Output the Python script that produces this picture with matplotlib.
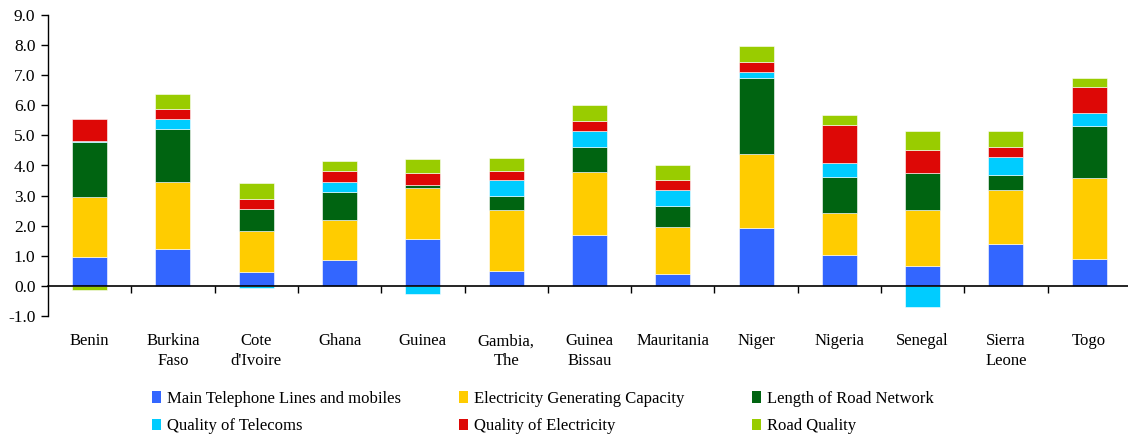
import numpy as np
import matplotlib
matplotlib.use("Agg")
import matplotlib.pyplot as plt
from matplotlib.patches import Patch
from matplotlib.transforms import blended_transform_factory

countries = ["Benin", "Burkina\nFaso", "Cote\nd'Ivoire", "Ghana", "Guinea",
             "Gambia,\nThe", "Guinea\nBissau", "Mauritania", "Niger", "Nigeria",
             "Senegal", "Sierra\nLeone", "Togo"]

phone_lines = [0.96, 1.24, 0.47, 0.86, 1.56, 0.51, 1.69, 0.41, 1.92, 1.04, 0.67, 1.39, 0.91]
elec_capacity = [2.00, 2.20, 1.36, 1.32, 1.69, 2.00, 2.09, 1.56, 2.45, 1.38, 1.84, 1.80, 2.67]
road_length = [1.82, 1.76, 0.73, 0.93, 0.10, 0.49, 0.82, 0.69, 2.54, 1.21, 1.23, 0.49, 1.72]
telecom_quality = [0.03, 0.33, -0.07, 0.33, -0.27, 0.53, 0.53, 0.53, 0.19, 0.45, -0.70, 0.59, 0.43]
elec_quality = [0.72, 0.36, 0.33, 0.39, 0.40, 0.29, 0.36, 0.34, 0.34, 1.26, 0.77, 0.34, 0.88]
road_quality = [-0.12, 0.48, 0.54, 0.33, 0.47, 0.44, 0.53, 0.49, 0.54, 0.34, 0.63, 0.53, 0.29]

series = [
    ("Main Telephone Lines and mobiles", phone_lines, "#3366FF"),
    ("Electricity Generating Capacity", elec_capacity, "#FFCC00"),
    ("Length of Road Network", road_length, "#006411"),
    ("Quality of Telecoms", telecom_quality, "#00CCFF"),
    ("Quality of Electricity", elec_quality, "#DD0806"),
    ("Road Quality", road_quality, "#99CC00"),
]

FS = 12
plt.rcParams["font.family"] = ["Liberation Serif", "DejaVu Serif"]
plt.rcParams["font.size"] = FS

fig = plt.figure(figsize=(11.28, 4.37), dpi=100)
ax = fig.add_axes([48 / 1128, 1 - 316 / 437, 13 * 83.3 / 1128, 301 / 437])

x = np.arange(len(countries))
pos_bottom = np.zeros(len(countries))
neg_bottom = np.zeros(len(countries))
handles = {}
for name, vals, color in series:
    vals = np.array(vals)
    bottom = np.where(vals >= 0, pos_bottom, neg_bottom)
    ax.bar(x, vals, width=0.42, bottom=bottom, color=color,
           edgecolor="white", linewidth=0.4)
    pos_bottom += np.clip(vals, 0, None)
    neg_bottom += np.clip(vals, None, 0)
    handles[name] = Patch(facecolor=color, edgecolor="none")

ax.set_xlim(-0.5, len(countries) - 0.5)
ax.set_ylim(-1, 9)
ax.set_yticks(np.arange(-1, 10))
ax.yaxis.set_major_formatter(matplotlib.ticker.FormatStrFormatter("%.1f"))
ax.tick_params(axis="y", direction="out", length=5, width=1, pad=4,
               labelsize=FS + 0.5)

# x axis sits at zero, ticks between categories, labels below the plot
for s in ["top", "right"]:
    ax.spines[s].set_visible(False)
ax.spines["bottom"].set_position(("data", 0))
ax.spines["left"].set_linewidth(1)
ax.spines["bottom"].set_linewidth(1.2)
ax.set_xticks(np.arange(0.5, len(countries)))
ax.set_xticklabels([])
ax.tick_params(axis="x", direction="out", length=5, width=1)

trans = blended_transform_factory(ax.transData, ax.transAxes)
for xi, label in zip(x, countries):
    ax.text(xi, -0.058, label, transform=trans, ha="center", va="top",
            fontsize=FS, linespacing=1.32)

# legend in three separate columns
columns = [
    (152, ["Main Telephone Lines and mobiles", "Quality of Telecoms"]),
    (459, ["Electricity Generating Capacity", "Quality of Electricity"]),
    (752, ["Length of Road Network", "Road Quality"]),
]
for xpix, names in columns:
    fig.legend([handles[n] for n in names], names,
               loc="upper left", bbox_to_anchor=(xpix / 1128, 1 - 391 / 437),
               frameon=False, handlelength=0.55, handleheight=0.7,
               handletextpad=0.35, labelspacing=0.68, borderpad=0,
               borderaxespad=0, fontsize=FS)

fig.savefig("out.png", dpi=100)
